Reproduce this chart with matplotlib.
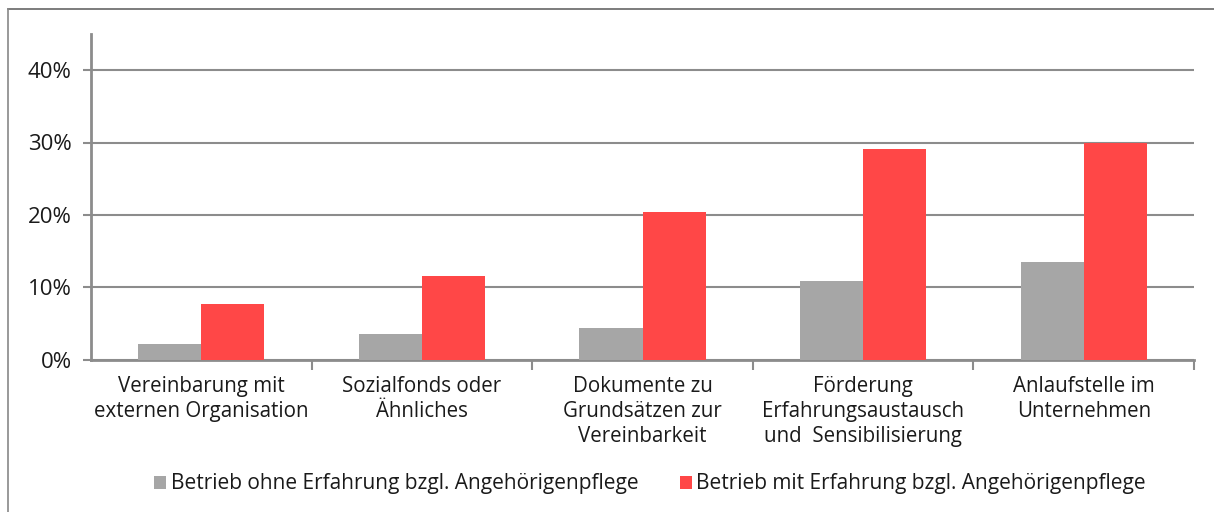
import numpy as np
import matplotlib
matplotlib.use('Agg')
import matplotlib.pyplot as plt
from matplotlib.lines import Line2D
from matplotlib.ticker import FixedLocator, PercentFormatter

plt.rcParams['font.family'] = ['Open Sans', 'DejaVu Sans']

kategorien = ['Vereinbarung mit\nexternen Organisation',
              'Sozialfonds oder\nÄhnliches',
              'Dokumente zu\nGrundsätzen zur\nVereinbarkeit',
              'Förderung\nErfahrungsaustausch\nund  Sensibilisierung',
              'Anlaufstelle im\nUnternehmen']
ohne_erfahrung = [2.2, 3.5, 4.4, 10.8, 13.5]
mit_erfahrung = [7.7, 11.5, 20.4, 29.1, 29.9]
serien = ['Betrieb ohne Erfahrung bzgl. Angehörigenpflege',
          'Betrieb mit Erfahrung bzgl. Angehörigenpflege']

grau = '#A6A6A6'
rot = '#FF4747'
linie = '#8C8C8C'
text = '#1a1a1a'

fig = plt.figure(figsize=(12.14, 5.12), dpi=100)
ax = fig.add_axes([91/1214, 1 - 359.5/512, (1194 - 91)/1214, (359.5 - 34)/512])

x = np.arange(len(kategorien))
b = 0.286
ax.bar(x - b/2, ohne_erfahrung, width=b, color=grau, label=serien[0], zorder=3)
ax.bar(x + b/2, mit_erfahrung, width=b, color=rot, label=serien[1], zorder=3)

ax.set_xlim(-0.5, len(kategorien) - 0.5)
ax.set_ylim(0, 45)
ax.set_yticks([0, 10, 20, 30, 40])
ax.yaxis.set_major_formatter(PercentFormatter(decimals=0))
ax.grid(axis='y', color=linie, linewidth=1.5, zorder=0)

ax.set_xticks(x)
ax.set_xticklabels(kategorien, fontsize=14.8, color=text, linespacing=1.25)
ax.tick_params(axis='x', which='major', length=0, pad=12)
ax.xaxis.set_minor_locator(FixedLocator(np.arange(0.5, len(kategorien), 1.0)))
ax.tick_params(axis='x', which='minor', length=7, width=1.5, color=linie, direction='out')
ax.tick_params(axis='y', length=6, width=1.5, color=linie, labelsize=16, labelcolor=text, pad=8)

for s in ['top', 'right']:
    ax.spines[s].set_visible(False)
for s in ['left', 'bottom']:
    ax.spines[s].set_color(linie)
    ax.spines[s].set_linewidth(2)

ax.legend(loc='center', bbox_to_anchor=(650/1214, 1 - 484/512), bbox_transform=fig.transFigure,
          ncol=2, frameon=False, fontsize=15, handlelength=0.58, handleheight=0.58,
          handletextpad=0.2, columnspacing=2.0, labelcolor=text)

# Rahmen oben und links
fig.add_artist(Line2D([8/1214, 1], [1 - 9/512, 1 - 9/512], transform=fig.transFigure, color='#666666', linewidth=1.2))
fig.add_artist(Line2D([8/1214, 8/1214], [0, 1 - 9/512], transform=fig.transFigure, color='#888888', linewidth=1.2))

fig.savefig('out.png', dpi=100)
